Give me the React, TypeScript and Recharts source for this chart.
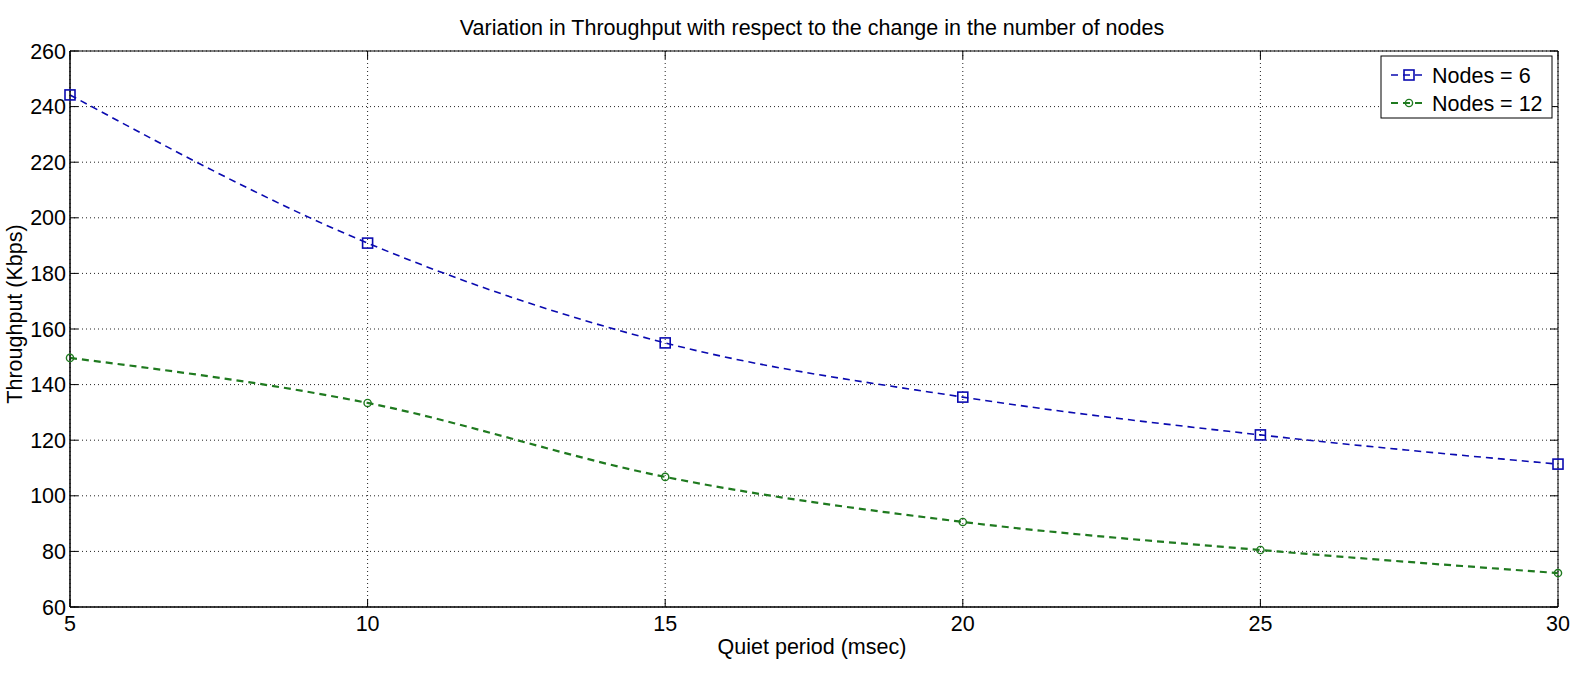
import React from 'react';
import { LineChart, Line, XAxis, YAxis, CartesianGrid, ReferenceArea } from 'recharts';

const quietPeriod = [5, 10, 15, 20, 25, 30];
const nodes6 = [244.2, 190.9, 155.0, 135.5, 121.9, 111.4];
const nodes12 = [149.6, 133.4, 106.8, 90.6, 80.5, 72.2];
const xTicks = [5, 10, 15, 20, 25, 30];
const yTicks = [60, 80, 100, 120, 140, 160, 180, 200, 220, 240, 260];
const seriesNames = ['Nodes = 6', 'Nodes = 12'];
const title = 'Variation in Throughput with respect to the change in the number of nodes';
const xLabel = 'Quiet period (msec)';
const yLabel = 'Throughput (Kbps)';

const data = quietPeriod.map((q, i) => ({ q, n6: nodes6[i], n12: nodes12[i] }));

const W = 1570;
const H = 683;
const PL = 70;
const PT = 51;
const PR = 1558;
const PB = 607;
const FONT = '"Liberation Sans", Arial, sans-serif';
const FS = 21.5;
const BLUE = '#0a0ab0';
const GREEN = '#1f7a1f';
const TICK = 8;

const XTick = (props: any) => {
  const { x, payload } = props;
  return (
    <g>
      <line x1={x} x2={x} y1={PB} y2={PB - TICK} stroke="#000" />
      <line x1={x} x2={x} y1={PT} y2={PT + TICK} stroke="#000" />
      <text x={x} y={PB + 24} textAnchor="middle" fontSize={FS} fontFamily={FONT} fill="#000">
        {payload.value}
      </text>
    </g>
  );
};

const YTick = (props: any) => {
  const { y, payload } = props;
  return (
    <g>
      <line x1={PL} x2={PL + TICK} y1={y} y2={y} stroke="#000" />
      <line x1={PR - TICK} x2={PR} y1={y} y2={y} stroke="#000" />
      <text x={PL - 4} y={y + 7.5} textAnchor="end" fontSize={FS} fontFamily={FONT} fill="#000">
        {payload.value}
      </text>
    </g>
  );
};

const SquareDot = (props: any) => {
  const { cx, cy, index } = props;
  if (cx == null || cy == null) return <g key={index} />;
  return <rect key={index} x={cx - 5} y={cy - 5} width={10} height={10} fill="none" stroke={BLUE} strokeWidth={1.6} />;
};

const CircleDot = (props: any) => {
  const { cx, cy, index } = props;
  if (cx == null || cy == null) return <g key={index} />;
  return <circle key={index} cx={cx} cy={cy} r={3.6} fill="none" stroke={GREEN} strokeWidth={1.4} />;
};

export default function App() {
  return (
    <div style={{ position: 'absolute', left: 0, top: 0, width: W, height: H, background: '#fff' }}>
      <LineChart width={W} height={H} data={data} margin={{ top: PT, right: W - PR, bottom: 36, left: 10 }}>
        <CartesianGrid stroke="#222" strokeDasharray="1 3" />
        <XAxis
          dataKey="q"
          type="number"
          domain={[5, 30]}
          ticks={xTicks}
          height={40}
          tickSize={0}
          tickLine={false}
          axisLine={{ stroke: '#000' }}
          tick={<XTick />}
          interval={0}
        />
        <YAxis
          type="number"
          domain={[60, 260]}
          ticks={yTicks}
          width={60}
          tickSize={0}
          tickLine={false}
          axisLine={{ stroke: '#000' }}
          tick={<YTick />}
          interval={0}
        />
        <ReferenceArea x1={5} x2={30} y1={60} y2={260} fill="none" fillOpacity={0} stroke="#000" strokeWidth={1} />
        <Line
          type="monotone"
          dataKey="n6"
          name={seriesNames[0]}
          stroke={BLUE}
          strokeWidth={1.6}
          strokeDasharray="7 5"
          dot={<SquareDot />}
          isAnimationActive={false}
        />
        <Line
          type="monotone"
          dataKey="n12"
          name={seriesNames[1]}
          stroke={GREEN}
          strokeWidth={2.2}
          strokeDasharray="7 5"
          dot={<CircleDot />}
          isAnimationActive={false}
        />
      </LineChart>
      <svg width={W} height={H} style={{ position: 'absolute', left: 0, top: 0, pointerEvents: 'none' }}>
        <text x={(PL + PR) / 2 - 2} y={35} textAnchor="middle" fontSize={FS} fontFamily={FONT} fill="#000">
          {title}
        </text>
        <text x={(PL + PR) / 2 - 2} y={654} textAnchor="middle" fontSize={FS} fontFamily={FONT} fill="#000">
          {xLabel}
        </text>
        <text
          x={0}
          y={0}
          transform={`translate(22, ${(PT + PB) / 2 - 15}) rotate(-90)`}
          textAnchor="middle"
          fontSize={FS}
          fontFamily={FONT}
          fill="#000"
        >
          {yLabel}
        </text>
        <g>
          <rect x={1381} y={56} width={171} height={62} fill="#fff" stroke="#000" />
          <line x1={1391} x2={1427} y1={75} y2={75} stroke={BLUE} strokeWidth={1.6} strokeDasharray="7 5" />
          <rect x={1404} y={70} width={10} height={10} fill="none" stroke={BLUE} strokeWidth={1.6} />
          <text x={1432} y={82.5} fontSize={FS} fontFamily={FONT} fill="#000">{seriesNames[0]}</text>
          <line x1={1391} x2={1427} y1={103} y2={103} stroke={GREEN} strokeWidth={2.2} strokeDasharray="7 5" />
          <circle cx={1409} cy={103} r={3.6} fill="none" stroke={GREEN} strokeWidth={1.4} />
          <text x={1432} y={110.5} fontSize={FS} fontFamily={FONT} fill="#000">{seriesNames[1]}</text>
        </g>
      </svg>
    </div>
  );
}
